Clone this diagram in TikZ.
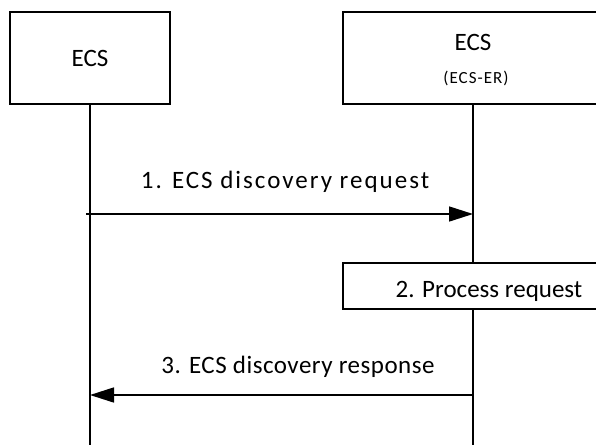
\documentclass[tikz,border=0pt]{standalone}
\usepackage{fontspec}
\setmainfont{Carlito}
\newfontfamily\spA[LetterSpace=8]{Carlito}
\newfontfamily\spB[LetterSpace=2]{Carlito}
\newfontfamily\spC[LetterSpace=6]{Carlito}
\usetikzlibrary{arrows.meta}
\begin{document}
\begin{tikzpicture}[x=1pt,y=-1pt,
  box/.style={draw,line width=1.6pt},
  life/.style={line width=1.6pt},
  msg/.style={line width=1.6pt,-{Triangle[length=24pt,width=15pt]}},
  lbl/.style={font=\fontsize{25}{30}\selectfont,inner sep=0pt}]
\useasboundingbox (0,0) rectangle (596,445);
\clip (0,0) rectangle (596,445);
\draw[box] (10,12) rectangle (170,104);
\draw[box] (343,12) rectangle (620,104);
\node[lbl] (ecsA) at (90,58) {ECS};
\node[lbl] (ecsB) at (473,42) {ECS};
\node[inner sep=0pt,font=\spC\fontsize{17}{20}\selectfont] (er) at (476,78) {(ECS-ER)};
\coordinate (la) at (90,104);
\coordinate (lb) at (473,104);
\coordinate (la2) at (90,445);
\coordinate (lb2) at (473,263);
\coordinate (lb3) at (473,309);
\coordinate (lb4) at (473,445);
\draw[life] (la) -- (la2);
\draw[life] (lb) -- (lb2);
\draw[life] (lb3) -- (lb4);
\draw[box] (343,263) rectangle (620,309);
\node[lbl] (proc) at (489,291) {2. Process request};
\coordinate (a1s) at (86,214);
\coordinate (a1e) at (473,214);
\draw[msg] (a1s) -- (a1e);
\node[lbl,font=\spA\fontsize{25}{30}\selectfont] (m1) at (285,182) {1. ECS discovery request};
\coordinate (a3s) at (473,395);
\coordinate (a3e) at (90,395);
\draw[msg] (a3s) -- (a3e);
\node[lbl,font=\spB\fontsize{25}{30}\selectfont] (m3) at (298,367) {3. ECS discovery response};
\end{tikzpicture}
\end{document}
